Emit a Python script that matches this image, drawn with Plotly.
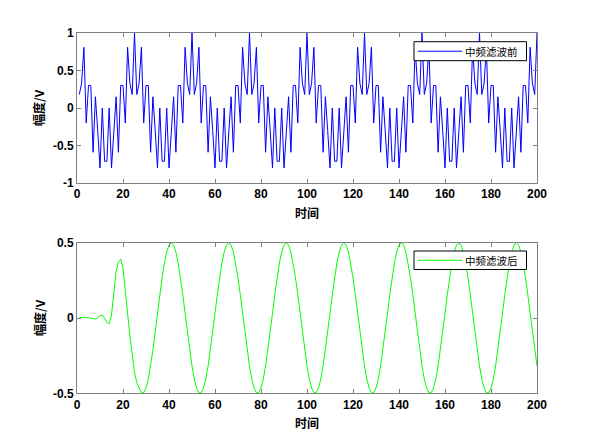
import plotly.graph_objects as go

# ---- data ----
t = list(range(1, 201))

before = [
    0.18, 0.33, 0.81, -0.20, 0.30, 0.30, -0.59, 0.15, -0.30, -0.80, 0.00, -0.71, -0.71, 0.00, -0.80, -0.30, 0.15, -0.59, 0.30, 0.30, -0.20, 0.81, 0.33, 0.18, 1.00,
    0.18, 0.33, 0.81, -0.20, 0.30, 0.30, -0.59, 0.15, -0.30, -0.80, 0.00, -0.71, -0.71, 0.00, -0.80, -0.30, 0.15, -0.59, 0.30, 0.30, -0.20, 0.81, 0.33, 0.18, 1.00,
    0.18, 0.33, 0.81, -0.20, 0.30, 0.30, -0.59, 0.15, -0.30, -0.80, 0.00, -0.71, -0.71, 0.00, -0.80, -0.30, 0.15, -0.59, 0.30, 0.30, -0.20, 0.81, 0.33, 0.18, 1.00,
    0.18, 0.33, 0.81, -0.20, 0.30, 0.30, -0.59, 0.15, -0.30, -0.80, 0.00, -0.71, -0.71, 0.00, -0.80, -0.30, 0.15, -0.59, 0.30, 0.30, -0.20, 0.81, 0.33, 0.18, 1.00,
    0.18, 0.33, 0.81, -0.20, 0.30, 0.30, -0.59, 0.15, -0.30, -0.80, 0.00, -0.71, -0.71, 0.00, -0.80, -0.30, 0.15, -0.59, 0.30, 0.30, -0.20, 0.81, 0.33, 0.18, 1.00,
    0.18, 0.33, 0.81, -0.20, 0.30, 0.30, -0.59, 0.15, -0.30, -0.80, 0.00, -0.71, -0.71, 0.00, -0.80, -0.30, 0.15, -0.59, 0.30, 0.30, -0.20, 0.81, 0.33, 0.18, 1.00,
    0.18, 0.33, 0.81, -0.20, 0.30, 0.30, -0.59, 0.15, -0.30, -0.80, 0.00, -0.71, -0.71, 0.00, -0.80, -0.30, 0.15, -0.59, 0.30, 0.30, -0.20, 0.81, 0.33, 0.18, 1.00,
    0.18, 0.33, 0.81, -0.20, 0.30, 0.30, -0.59, 0.15, -0.30, -0.80, 0.00, -0.71, -0.71, 0.00, -0.80, -0.30, 0.15, -0.59, 0.30, 0.30, -0.20, 0.81, 0.33, 0.18, 1.00,
]

after = [
    0.004, 0.005, 0.005, 0.004, 0.002, 0.000, -0.005, -0.007, 0.000, 0.015, 0.020, 0.000, -0.030, -0.038, 0.020, 0.170, 0.310, 0.370, 0.390, 0.330, 0.200, 0.030, -0.120, -0.250, -0.360, -0.430,
    -0.465, -0.496, -0.496, -0.465, -0.405, -0.319, -0.213, -0.094, 0.031, 0.155, 0.268, 0.365, 0.438, 0.484, 0.500, 0.484, 0.438, 0.365, 0.268, 0.155, 0.031, -0.094, -0.213, -0.319, -0.405,
    -0.465, -0.496, -0.496, -0.465, -0.405, -0.319, -0.213, -0.094, 0.031, 0.155, 0.268, 0.365, 0.438, 0.484, 0.500, 0.484, 0.438, 0.365, 0.268, 0.155, 0.031, -0.094, -0.213, -0.319, -0.405,
    -0.465, -0.496, -0.496, -0.465, -0.405, -0.319, -0.213, -0.094, 0.031, 0.155, 0.268, 0.365, 0.438, 0.484, 0.500, 0.484, 0.438, 0.365, 0.268, 0.155, 0.031, -0.094, -0.213, -0.319, -0.405,
    -0.465, -0.496, -0.496, -0.465, -0.405, -0.319, -0.213, -0.094, 0.031, 0.155, 0.268, 0.365, 0.438, 0.484, 0.500, 0.484, 0.438, 0.365, 0.268, 0.155, 0.031, -0.094, -0.213, -0.319, -0.405,
    -0.465, -0.496, -0.496, -0.465, -0.405, -0.319, -0.213, -0.094, 0.031, 0.155, 0.268, 0.365, 0.438, 0.484, 0.500, 0.484, 0.438, 0.365, 0.268, 0.155, 0.031, -0.094, -0.213, -0.319, -0.405,
    -0.465, -0.496, -0.496, -0.465, -0.405, -0.319, -0.213, -0.094, 0.031, 0.155, 0.268, 0.365, 0.438, 0.484, 0.500, 0.484, 0.438, 0.365, 0.268, 0.155, 0.031, -0.094, -0.213, -0.319, -0.405,
    -0.465, -0.496, -0.496, -0.465, -0.405, -0.319, -0.213, -0.094, 0.031, 0.155, 0.268, 0.365, 0.438, 0.484, 0.500, 0.484, 0.438, 0.365, 0.268, 0.155, 0.031, -0.094, -0.213, -0.319,
]

series_names = ["中频滤波前", "中频滤波后"]
series_colors = ["#0000ff", "#00ff00"]

x_ticks = [0, 20, 40, 60, 80, 100, 120, 140, 160, 180, 200]
top_y_ticks = [-1, -0.5, 0, 0.5, 1]
top_y_labels = ["-1", "-0.5", "0", "0.5", "1"]
bot_y_ticks = [-0.5, 0, 0.5]
bot_y_labels = ["-0.5", "0", "0.5"]

# ---- layout geometry (page body has an 8px margin) ----
OFF = 8
W, H = 585, 435
def px(xp):
    return (xp - OFF) / W
def py(yp):
    return 1 - (yp - OFF) / H

FONT = "Liberation Sans, Arial, Noto Sans CJK SC, sans-serif"
CJK = "Noto Sans CJK SC, sans-serif"
AXC = "#808080"

fig = go.Figure()
fig.add_trace(go.Scatter(x=t, y=before, mode="lines", name=series_names[0],
                         line=dict(color=series_colors[0], width=1), xaxis="x", yaxis="y"))
fig.add_trace(go.Scatter(x=t, y=after, mode="lines", name=series_names[1],
                         line=dict(color=series_colors[1], width=1), xaxis="x2", yaxis="y2"))

axis_common = dict(showline=True, linecolor=AXC, linewidth=1, mirror="ticks", automargin=False,
                   ticks="inside", ticklen=4, tickcolor=AXC, showgrid=False, zeroline=False,
                   tickfont=dict(family=FONT, size=12, color="black", weight="bold"))

xd = [px(77), px(537)]
fig.update_layout(
    template="none",
    width=W, height=H, margin=dict(l=0, r=0, t=0, b=0, autoexpand=False),
    paper_bgcolor="white", plot_bgcolor="white", showlegend=False,
    xaxis=dict(domain=xd, range=[0, 200], tickvals=x_ticks, anchor="y", **axis_common),
    yaxis=dict(domain=[py(183), py(33)], range=[-1, 1], tickvals=top_y_ticks, ticktext=top_y_labels,
               anchor="x", **axis_common),
    xaxis2=dict(domain=xd, range=[0, 200], tickvals=x_ticks, anchor="y2", **axis_common),
    yaxis2=dict(domain=[py(393.3), py(242.7)], range=[-0.5, 0.5], tickvals=bot_y_ticks, ticktext=bot_y_labels,
                anchor="x2", **axis_common),
)

# legend boxes (MATLAB style, compact)
legend_boxes = [(41.7, 60.7), (251, 269.5)]
for name, color, (y0, y1) in zip(series_names, series_colors, legend_boxes):
    fig.add_shape(type="rect", xref="paper", yref="paper",
                  x0=px(414), x1=px(526.5), y0=py(y1), y1=py(y0),
                  line=dict(color="black", width=1), fillcolor="white", layer="above")
    ym = (y0 + y1) / 2
    fig.add_shape(type="line", xref="paper", yref="paper",
                  x0=px(418), x1=px(462), y0=py(ym), y1=py(ym),
                  line=dict(color=color, width=1), layer="above")
    fig.add_annotation(xref="paper", yref="paper", x=px(463), y=py(ym), text=name,
                       showarrow=False, xanchor="left", yanchor="middle",
                       font=dict(family=CJK, size=10.5, color="black"))

title_font = dict(family=CJK, size=12, color="black", weight="bold")
annos = [
    dict(text="幅度/V", x=px(39), y=py(108), textangle=-90),
    dict(text="时间", x=px(307), y=py(212), textangle=0),
    dict(text="幅度/V", x=px(39), y=py(318), textangle=-90),
    dict(text="时间", x=px(307), y=py(422), textangle=0),
]
for a in annos:
    fig.add_annotation(xref="paper", yref="paper", showarrow=False, font=title_font,
                       xanchor="center", yanchor="middle", **a)

fig.write_html("out.html")
